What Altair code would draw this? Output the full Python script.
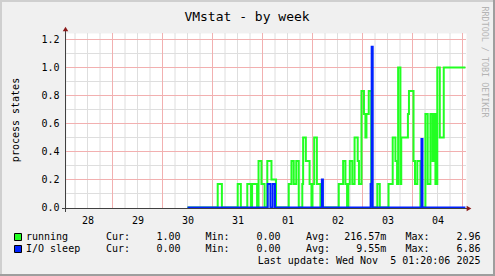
import json
import altair as alt
import pandas as pd

# ---------------- data (hours since Oct 28 00:00) ----------------
day_labels = ["28", "29", "30", "31", "01", "02", "03", "04"]
day_label_hours = [12, 36, 60, 84, 108, 132, 156, 180]

running_t = [60.0, 74.5, 76.5, 84.1, 85.6, 88.7, 90.5, 91.0, 93.4, 94.1, 95.5, 97.0,
             98.3, 100.3, 102.5, 108.6, 109.9, 111.0, 112.2, 113.4, 115.1, 115.5,
             116.8, 118.6, 119.5, 120.0, 120.8, 122.1, 123.8, 132.6, 134.7, 135.8,
             136.6, 137.2, 137.9, 139.1, 140.2, 141.7, 142.3, 143.5, 144.7, 145.4,
             145.9, 147.0, 148.2, 151.1, 152.3, 156.5, 158.5, 159.8, 160.6, 161.1,
             162.2, 162.6, 165.8, 166.3, 168.5, 169.2, 170.3, 171.8, 174.2, 175.3,
             176.6, 177.6, 178.1, 179.0, 179.9, 181.1, 183.0]
running_v = [0, 0.167, 0, 0.167, 0, 0.167, 0, 0.167, 0, 0.333, 0.167, 0,
             0.333, 0.2, 0, 0.167, 0.333, 0.167, 0.333, 0, 0.167, 0.5,
             0.333, 0.167, 0, 0.167, 0.5, 0.167, 0, 0.167, 0.333, 0.167,
             0, 0.167, 0.333, 0.167, 0.5, 0.333, 0.167, 0.833, 0.667, 0.5,
             0.667, 0.833, 0, 0.167, 0, 0.167, 0.5, 0.333, 0.167, 1.0,
             0.167, 0.5, 0.667, 0.833, 0.333, 0.167, 0.333, 0, 0.667, 0.167,
             0.667, 0.333, 0.667, 0.167, 1.0, 0.5, 1.0]

iosleep_t = [60.0, 98.5, 99.8, 100.9, 102.0, 124.5, 125.0, 147.9, 148.4, 148.9, 172.3, 172.8]
iosleep_v = [0, 0.167, 0, 0.167, 0, 0.2, 0, 0.167, 1.148, 0, 0.49, 0]

t_end = 193.4

y_ticks = [0.0, 0.2, 0.4, 0.6, 0.8, 1.0, 1.2]

series_names = ["running", "I/O sleep"]
cur_vals = ["1.00", "0.00"]
min_vals = ["0.00", "0.00"]
avg_vals = ["216.57m", "9.55m"]
max_vals = ["2.96", "6.86"]
last_update = "Last update: Wed Nov\u00a0 5 01:20:06 2025"
title_text = "VMstat - by week"
y_title = "process states"
watermark = "RRDTOOL / TOBI OETIKER"

# ---------------- styling ----------------
FONT = "DejaVu Sans Mono"
GREEN = "#22ff22"
BLUE = "#0022ff"
OX, OY = 66, 33          # plot-area origin in page pixels
W, H = 400, 175

xs = alt.Scale(domain=[1.68, 193.68], nice=False, zero=False)
ys = alt.Scale(domain=[-0.5 / 140, 1.25 - 0.5 / 140], nice=False, zero=False)

x_axis = alt.Axis(values=day_label_hours,
                  labelExpr=json.dumps(day_labels) + "[floor(datum.value/24)]",
                  grid=False, ticks=False, domain=False, title="",
                  labelFont=FONT, labelFontSize=10, labelColor="#000000",
                  labelPadding=7, labelFlush=False, labelOverlap=False)
y_axis = alt.Axis(values=y_ticks, format=".1f", grid=False, ticks=False, domain=False,
                  title="", labelFont=FONT, labelFontSize=10, labelColor="#000000",
                  labelPadding=7, labelOverlap=False)


def step_df(ts, vs):
    return pd.DataFrame({"t": list(ts) + [t_end], "v": list(vs) + [vs[-1]]})


def X(field):
    return alt.X(field, type="quantitative", scale=xs, axis=x_axis)


def Y(field):
    return alt.Y(field, type="quantitative", scale=ys, axis=y_axis)


minor_x = [h for h in range(6, 194, 6) if h % 24]
major_x = [h for h in range(24, 194, 24)]
minor_y = [0.1, 0.3, 0.5, 0.7, 0.9, 1.1]
major_y = [0.2, 0.4, 0.6, 0.8, 1.0, 1.2]

grid_minor_x = alt.Chart(pd.DataFrame({"h": minor_x})).mark_rule(
    color="#dedede", strokeWidth=1).encode(x=X("h"))
grid_minor_y = alt.Chart(pd.DataFrame({"g": minor_y})).mark_rule(
    color="#dedede", strokeWidth=1).encode(y=Y("g"))
grid_major_x = alt.Chart(pd.DataFrame({"h": major_x})).mark_rule(
    color="#f2b0b0", strokeWidth=1).encode(x=X("h"))
grid_major_y = alt.Chart(pd.DataFrame({"g": major_y})).mark_rule(
    color="#f2b0b0", strokeWidth=1).encode(y=Y("g"))

line_run = alt.Chart(step_df(running_t, running_v)).mark_line(
    interpolate="step-after", strokeWidth=2, color=GREEN).encode(x=X("t"), y=Y("v"))
line_io = alt.Chart(step_df(iosleep_t, iosleep_v)).mark_line(
    interpolate="step-after", strokeWidth=2, color=BLUE).encode(x=X("t"), y=Y("v"))

one = pd.DataFrame({"a": [0]})


def hrule(x1, x2, y, color, sw=1):
    return alt.Chart(one).mark_rule(color=color, strokeWidth=sw).encode(
        x=alt.value(x1 - OX), x2=alt.value(x2 - OX), y=alt.value(y - OY))


def vrule(x, y1, y2, color, sw=1):
    return alt.Chart(one).mark_rule(color=color, strokeWidth=sw).encode(
        x=alt.value(x - OX), y=alt.value(y1 - OY), y2=alt.value(y2 - OY))


def box(x1, x2, y1, y2, fill, stroke=None):
    kw = dict(fill=fill)
    if stroke:
        kw.update(stroke=stroke, strokeWidth=1)
    return alt.Chart(one).mark_rect(**kw).encode(
        x=alt.value(x1 - OX), x2=alt.value(x2 - OX),
        y=alt.value(y1 - OY), y2=alt.value(y2 - OY))


def text(s, x, y, align="left", size=10, color="#000000", angle=0, baseline="alphabetic"):
    return alt.Chart(pd.DataFrame({"s": [s]})).mark_text(
        align=align, baseline=baseline, font=FONT, fontSize=size,
        color=color, angle=angle).encode(
        x=alt.value(x - OX), y=alt.value(y - OY), text="s:N")


def arrow(x, y, shape):
    return alt.Chart(one).mark_point(shape=shape, filled=True, size=30,
                                     color="#8b1a1a", opacity=1).encode(
        x=alt.value(x - OX), y=alt.value(y - OY))


layers = [grid_minor_x, grid_minor_y, grid_major_x, grid_major_y,
          line_run, line_io,
          hrule(62, 467, 208.5, "#404040"),
          vrule(65.5, 31, 212, "#404040"),
          arrow(469, 208.5, "triangle-right"),
          arrow(65.5, 29, "triangle-up"),
          text(title_text, 247, 20.5, align="center", size=13),
          text(y_title, 15.5, 120, align="center", angle=270, baseline="middle"),
          text(watermark, 484.5, 62, align="center", size=8.4, color="#b4b4b4",
               angle=90, baseline="middle")]

row_y = [240, 252]
colors = [GREEN, BLUE]
for i in range(2):
    ry = row_y[i]
    layers += [
        box(14.5, 21.5, ry - 6.5, ry + 0.5, colors[i], stroke="#000000"),
        text(series_names[i], 26, ry),
        text("Cur:", 106, ry),
        text(cur_vals[i], 180.5, ry, align="right"),
        text("Min:", 205.5, ry),
        text(min_vals[i], 280.5, ry, align="right"),
        text("Avg:", 306, ry),
        text(avg_vals[i], 386.3, ry, align="right"),
        text("Max:", 405.5, ry),
        text(max_vals[i], 480.5, ry, align="right"),
    ]
layers.append(text(last_update, 480.5, 263.7, align="right"))

# frame
layers += [box(0, 495, 0, 2, "#cfcfcf"), box(0, 2, 0, 276, "#cfcfcf"),
           box(0, 495, 274, 276, "#9e9e9e"), box(493, 495, 0, 276, "#9e9e9e")]

chart = alt.layer(*layers).properties(
    width=W, height=H,
    padding={"left": OX, "top": OY, "right": 495 - OX - W, "bottom": 276 - OY - H},
    autosize=alt.AutoSizeParams(type="none"),
    background="#f0f0f0",
).configure_view(fill="#ffffff", stroke="transparent")

chart.save("out.html", embed_options={"renderer": "svg", "actions": False})
